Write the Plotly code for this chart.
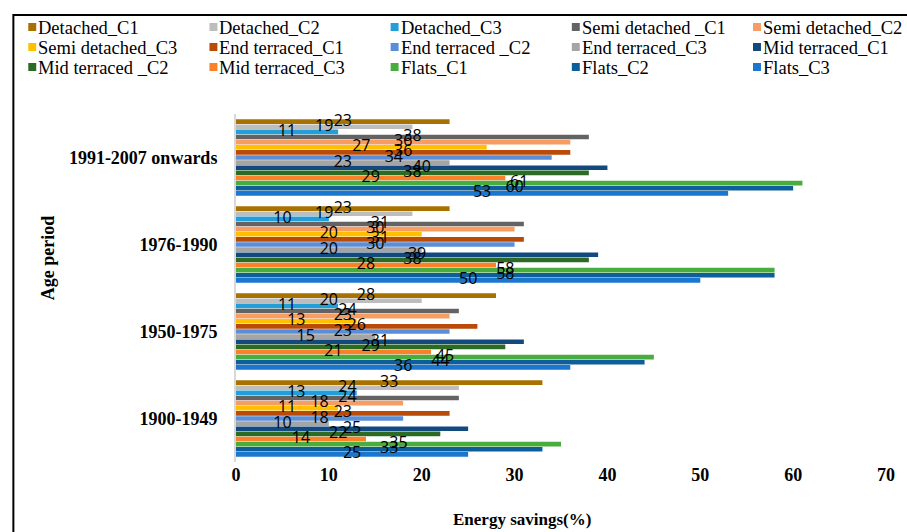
import plotly.graph_objects as go

# Age periods, listed top to bottom as drawn
age_periods = ["1991-2007 onwards", "1976-1990", "1950-1975", "1900-1949"]

series_names = [
    "Detached_C1", "Detached_C2", "Detached_C3",
    "Semi detached _C1", "Semi detached_C2", "Semi detached_C3",
    "End terraced_C1", "End terraced _C2", "End terraced_C3",
    "Mid terraced_C1", "Mid terraced _C2", "Mid terraced_C3",
    "Flats_C1", "Flats_C2", "Flats_C3",
]

# Energy savings (%) per series, in age_periods order
detached_c1 = [23, 23, 28, 33]
detached_c2 = [19, 19, 20, 24]
detached_c3 = [11, 10, 11, 13]
semi_c1 = [38, 31, 24, 24]
semi_c2 = [36, 30, 23, 18]
semi_c3 = [27, 20, 13, 11]
end_c1 = [36, 31, 26, 23]
end_c2 = [34, 30, 23, 18]
end_c3 = [23, 20, 15, 10]
mid_c1 = [40, 39, 31, 25]
mid_c2 = [38, 38, 29, 22]
mid_c3 = [29, 28, 21, 14]
flats_c1 = [61, 58, 45, 35]
flats_c2 = [60, 58, 44, 33]
flats_c3 = [53, 50, 36, 25]

x_ticks = [0, 10, 20, 30, 40, 50, 60, 70]

series_values = [
    detached_c1, detached_c2, detached_c3,
    semi_c1, semi_c2, semi_c3,
    end_c1, end_c2, end_c3,
    mid_c1, mid_c2, mid_c3,
    flats_c1, flats_c2, flats_c3,
]

colors = [
    "#A77200", "#BDBDBD", "#229FD9",
    "#636363", "#F89D62", "#FFC000",
    "#BA4A07", "#5A8ED6", "#A5A5A5",
    "#124A80", "#2C6B24", "#FB8129",
    "#48AD3E", "#0D5E9A", "#1A76CF",
]

W, H = 907, 532
ML, MR, MT, MB = 236, 17, 114, 70
PW, PH = W - ML - MR, H - MT - MB


def px_x(px):
    return (px - ML) / PW


def px_y(py):
    return (H - MB - py) / PH


SERIF = "Liberation Serif, Times New Roman, serif"
GAP = 0.115

fig = go.Figure()

for name, vals, col in zip(series_names, series_values, colors):
    fig.add_trace(go.Bar(
        name=name, y=age_periods, x=vals, orientation="h",
        marker=dict(color=col, line=dict(width=0)),
        offsetgroup=name, alignmentgroup="bars",
        showlegend=False, hoverinfo="x+name",
    ))

# value labels, centred along each bar and kept above all bars
for name, vals in zip(series_names, series_values):
    fig.add_trace(go.Scatter(
        name=name, y=age_periods, x=[v / 2 for v in vals],
        orientation="h", mode="text", text=[str(v) for v in vals],
        textposition="middle center",
        textfont=dict(family="Open Sans, sans-serif", size=16, color="black"),
        offsetgroup=name, alignmentgroup="bars",
        cliponaxis=False, showlegend=False, hoverinfo="skip",
    ))

# legend: 3 rows x 5 columns of swatches and names
shapes = []
annotations = []
for i, (name, col) in enumerate(zip(series_names, colors)):
    row, c = divmod(i, 5)
    cx = 31 + c * 182.3
    cy = 27 + row * 20
    shapes.append(dict(
        type="rect", xref="paper", yref="paper",
        x0=px_x(cx - 4), x1=px_x(cx + 4), y0=px_y(cy + 4), y1=px_y(cy - 4),
        fillcolor=col, line=dict(width=0),
    ))
    annotations.append(dict(
        xref="paper", yref="paper", x=px_x(cx + 4), y=px_y(cy + 1),
        xanchor="left", yanchor="middle", showarrow=False, text=name,
        font=dict(family=SERIF, size=18.5, color="black"),
    ))

# outer frame
shapes.append(dict(
    type="rect", xref="paper", yref="paper",
    x0=px_x(12), x1=px_x(W + 20), y0=px_y(H + 20), y1=px_y(15),
    line=dict(color="black", width=2), fillcolor="rgba(0,0,0,0)",
))

annotations.append(dict(
    xref="paper", yref="paper", x=px_x(524), y=px_y(519),
    xanchor="center", yanchor="middle", showarrow=False,
    text="<b>Energy savings(%)</b>",
    font=dict(family=SERIF, size=17, color="black"),
))
annotations.append(dict(
    xref="paper", yref="paper", x=px_x(47), y=px_y(258),
    xanchor="center", yanchor="middle", showarrow=False, textangle=-90,
    text="<b>Age period</b>",
    font=dict(family=SERIF, size=18, color="black"),
))

fig.update_layout(
    width=W, height=H,
    margin=dict(l=ML, r=MR, t=MT, b=MB),
    paper_bgcolor="white", plot_bgcolor="white",
    barmode="group", bargap=GAP, bargroupgap=0.1,
    scattermode="group", scattergap=GAP,
    shapes=shapes, annotations=annotations,
    showlegend=False,
)

fig.update_xaxes(
    range=[0, 70], tickvals=x_ticks, ticktext=[f"<b>{t}</b>" for t in x_ticks],
    showgrid=False, zeroline=False, showline=False, ticks="",
    tickfont=dict(family=SERIF, size=18, color="black"),
)
fig.update_yaxes(
    type="category", categoryorder="array", categoryarray=age_periods,
    autorange="reversed",
    tickvals=age_periods, ticktext=[f"<b>{p}</b>" for p in age_periods],
    showgrid=False, zeroline=False, ticks="",
    showline=True, linecolor="#D9D9D9", linewidth=2,
    tickfont=dict(family=SERIF, size=18, color="black"),
    ticklabelstandoff=13,
)

fig.write_html("out.html")
